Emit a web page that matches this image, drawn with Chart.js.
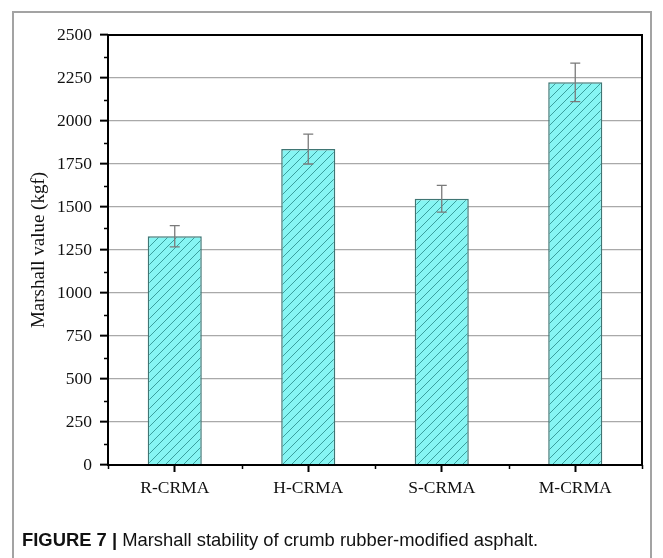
<!DOCTYPE html>
<html>
<head>
<meta charset="utf-8">
<script src="https://cdn.jsdelivr.net/npm/chart.js@4.4.1/dist/chart.umd.min.js"></script>
<style>
  html, body { margin: 0; padding: 0; background: #fff; }
  body { width: 663px; height: 558px; position: relative; overflow: hidden; }
  #frame {
    position: absolute; left: 12px; top: 11px; width: 640px; height: 600px;
    border: 2px solid #a3a3a3; border-bottom: none; box-sizing: border-box;
  }
  #chart { position: absolute; left: 0; top: 0; }
  #caption {
    position: absolute; left: 22px; top: 530px;
    font-family: "Liberation Sans", Arial, sans-serif; font-size: 18.4px;
    color: #111; white-space: nowrap; line-height: 20px;
  }
  #caption b { font-weight: bold; }
</style>
</head>
<body>
<div id="frame"></div>
<canvas id="chart" width="663" height="558"></canvas>
<div id="caption"><b>FIGURE 7 |</b> Marshall stability of crumb rubber-modified asphalt.</div>
<script>
// Marshall stability of each crumb rubber-modified asphalt (kgf)
const categories = ['R-CRMA', 'H-CRMA', 'S-CRMA', 'M-CRMA'];
const marshallValues = [1330, 1837, 1548, 2225];
const errorValues = [62, 87, 78, 112];
const yTicks = [0, 250, 500, 750, 1000, 1250, 1500, 1750, 2000, 2250, 2500];

// Hatched cyan fill for the bars
function makeHatch() {
  const s = 9;
  const c = document.createElement('canvas');
  c.width = s; c.height = s;
  const g = c.getContext('2d');
  g.fillStyle = '#86f5f3';
  g.fillRect(0, 0, s, s);
  g.strokeStyle = '#3a9f9d';
  g.lineWidth = 1;
  g.beginPath();
  g.moveTo(0, s); g.lineTo(s, 0);
  g.moveTo(-1, 1); g.lineTo(1, -1);
  g.moveTo(s - 1, s + 1); g.lineTo(s + 1, s - 1);
  g.stroke();
  return g.createPattern(c, 'repeat');
}

// Error bars, box frame and minor ticks
const decorations = {
  id: 'decorations',
  afterDatasetsDraw(chart) {
    const ctx = chart.ctx;
    const x = chart.scales.x, y = chart.scales.y;
    const a = chart.chartArea;
    ctx.save();
    // error bars
    ctx.strokeStyle = '#7a7a7a';
    ctx.lineWidth = 1.3;
    marshallValues.forEach((v, i) => {
      const cx = x.getPixelForValue(i);
      const hi = y.getPixelForValue(v + errorValues[i]);
      const lo = y.getPixelForValue(v - errorValues[i]);
      ctx.beginPath();
      ctx.moveTo(cx, hi); ctx.lineTo(cx, lo);
      ctx.moveTo(cx - 5, hi); ctx.lineTo(cx + 5, hi);
      ctx.moveTo(cx - 5, lo); ctx.lineTo(cx + 5, lo);
      ctx.stroke();
    });
    // box frame
    ctx.strokeStyle = '#000';
    ctx.lineWidth = 2;
    ctx.strokeRect(a.left, a.top, a.right - a.left, a.bottom - a.top);
    // minor y ticks
    ctx.lineWidth = 1.5;
    ctx.beginPath();
    for (let v = 125; v < 2500; v += 250) {
      const py = Math.round(y.getPixelForValue(v)) + 0.5;
      ctx.moveTo(a.left - 4, py); ctx.lineTo(a.left, py);
    }
    // minor x ticks between categories
    for (let i = 0; i <= categories.length; i++) {
      const px = Math.round(x.getPixelForValue(i - 0.5)) + 0.5;
      ctx.moveTo(px, a.bottom); ctx.lineTo(px, a.bottom + 4);
    }
    ctx.stroke();
    ctx.restore();
  }
};

const serif = '"Liberation Serif", "Times New Roman", serif';

new Chart(document.getElementById('chart'), {
  type: 'bar',
  data: {
    labels: categories,
    datasets: [{
      data: marshallValues,
      backgroundColor: makeHatch(),
      borderColor: '#3f7674',
      borderWidth: 1.5,
      barPercentage: 0.405,
      categoryPercentage: 1
    }]
  },
  options: {
    responsive: false,
    animation: false,
    layout: { padding: { left: 0, top: 35, right: 21, bottom: 0 } },
    plugins: { legend: { display: false }, tooltip: { enabled: false } },
    scales: {
      x: {
        afterFit(scale) { scale.height = 93; },
        grid: {
          offset: false,
          drawOnChartArea: false,
          tickLength: 7,
          tickColor: '#000',
          tickWidth: 2
        },
        border: { display: false },
        ticks: {
          color: '#111',
          padding: 6,
          font: { family: serif, size: 17.5 }
        }
      },
      y: {
        min: 0,
        max: 2500,
        afterFit(scale) { scale.width = 108; },
        afterBuildTicks(scale) { scale.ticks = yTicks.map(v => ({ value: v })); },
        grid: {
          color: ctx => (ctx.tick && (ctx.tick.value === 0 || ctx.tick.value === 2500)) ? 'rgba(0,0,0,0)' : '#a9a9a9',
          lineWidth: 1.3,
          tickLength: 8,
          tickColor: '#000',
          tickWidth: 2
        },
        border: { display: false },
        ticks: {
          color: '#111',
          padding: 8,
          callback: v => String(v),
          font: { family: serif, size: 17.5 }
        },
        title: {
          display: true,
          text: 'Marshall value (kgf)',
          color: '#111',
          padding: { top: 28, bottom: 0 },
          font: { family: serif, size: 19 }
        }
      }
    }
  },
  plugins: [decorations]
});
</script>
</body>
</html>
